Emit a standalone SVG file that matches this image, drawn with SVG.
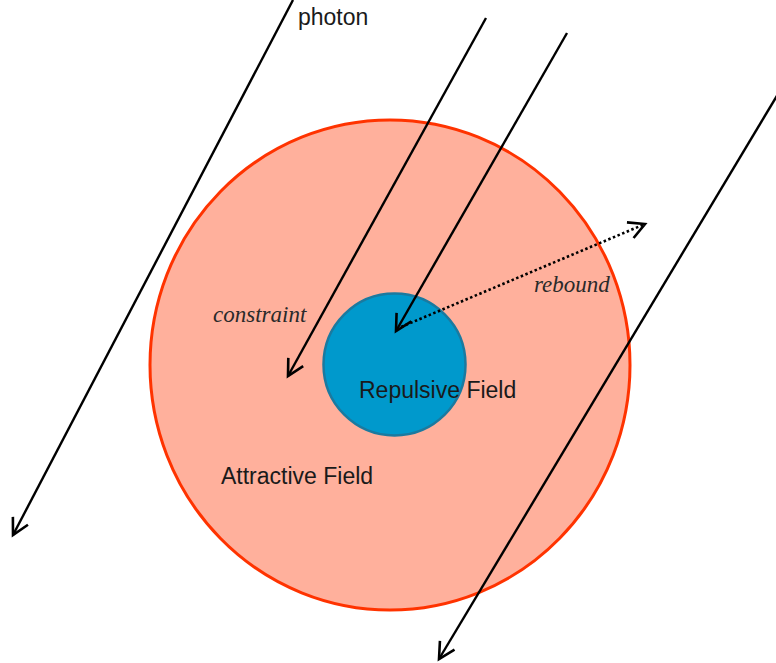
<svg xmlns="http://www.w3.org/2000/svg" width="776" height="663" viewBox="0 0 776 663">
<style>
.ray{stroke:#000;stroke-width:2.4;fill:none;marker-end:url(#arr)}
.dot{stroke:#000;stroke-width:2.6;fill:none;stroke-dasharray:2.5 2.5;marker-end:url(#arr)}
.lbl{font-family:"Liberation Sans",Arial,sans-serif;font-size:23px;fill:#1a1a1a}
.it{font-family:"Liberation Serif","Times New Roman",serif;font-style:italic;font-size:23px;fill:#2a2a2a}
</style>
<defs>
<marker id="arr" markerUnits="userSpaceOnUse" markerWidth="24" markerHeight="24" refX="0" refY="0" viewBox="-18 -12 24 24" orient="auto" overflow="visible">
<path d="M-16,-8.5 L0,0 L-16,8.5" fill="none" stroke="#000" stroke-width="2.6"/>
</marker>
</defs>
<rect width="776" height="663" fill="#fff"/>
<g id="attractive">
<ellipse cx="390" cy="365" rx="240" ry="245" fill="#ffb09c" stroke="#ff3300" stroke-width="3"/>
<text class="lbl" x="221" y="484">Attractive Field</text>
</g>
<g id="repulsive">
<circle cx="394.5" cy="364.5" r="71" fill="#0099cc" stroke="#1a7aa0" stroke-width="2.5"/>
<text class="lbl" x="359" y="398">Repulsive Field</text>
</g>
<g id="connectors">
<line class="ray" x1="293" y1="0" x2="13" y2="535"/>
<line class="ray" x1="486" y1="18" x2="288" y2="376"/>
<line class="ray" x1="567" y1="33" x2="396" y2="331"/>
<line class="ray" x1="778" y1="94" x2="439" y2="659"/>
<line class="dot" x1="401" y1="327" x2="645" y2="224"/>
</g>
<g id="labels">
<text class="lbl" x="298" y="25">photon</text>
<text class="it" x="213" y="322">constraint</text>
<text class="it" x="534" y="292">rebound</text>
</g>
</svg>
